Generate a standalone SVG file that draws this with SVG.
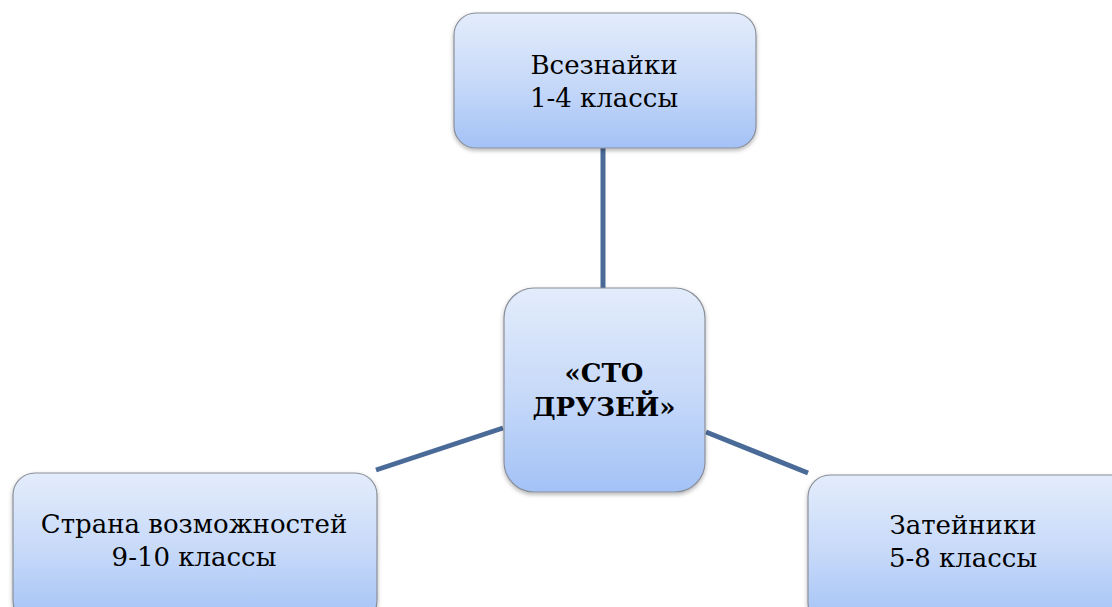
<svg xmlns="http://www.w3.org/2000/svg" width="1112" height="607" viewBox="0 0 1112 607">
<style>
.box{fill:url(#g);stroke:#8a8f99;stroke-width:1.2;filter:url(#sh)}
.t{font-family:'DejaVu Serif','Liberation Serif','Times New Roman',serif;font-size:26px;fill:#000;text-anchor:middle}
.b{font-weight:bold}
.c{stroke:#4a6a98;stroke-width:5;fill:none}
</style>
<defs>
<linearGradient id="g" x1="0" y1="0" x2="0" y2="1">
<stop offset="0" stop-color="#e3ecfb"/>
<stop offset="0.5" stop-color="#c8daf9"/>
<stop offset="1" stop-color="#a3c2f6"/>
</linearGradient>
<filter id="sh" x="-10%" y="-10%" width="120%" height="130%">
<feDropShadow dx="0" dy="2" stdDeviation="2" flood-color="#000" flood-opacity="0.3"/>
</filter>
</defs>
<g id="connectors">
<line class="c" x1="603" y1="148" x2="603" y2="288"/>
<line class="c" x1="376" y1="470" x2="503" y2="428"/>
<line class="c" x1="706" y1="432" x2="808" y2="473"/>
</g>
<g id="top">
<rect class="box" x="454" y="13" width="302" height="135" rx="22"/>
<text class="t" x="604" y="74">Всезнайки</text>
<text class="t" x="604" y="107">1-4 классы</text>
</g>
<g id="center">
<rect class="box" x="504" y="288" width="201" height="204" rx="30"/>
<text class="t b" x="604" y="382">«СТО</text>
<text class="t b" x="604" y="416">ДРУЗЕЙ»</text>
</g>
<g id="left">
<rect class="box" x="13" y="473" width="364" height="150" rx="22"/>
<text class="t" x="194" y="533">Страна возможностей</text>
<text class="t" x="194" y="566">9-10 классы</text>
</g>
<g id="right">
<rect class="box" x="808" y="475" width="330" height="150" rx="22"/>
<text class="t" x="963" y="534">Затейники</text>
<text class="t" x="963" y="567">5-8 классы</text>
</g>
</svg>
